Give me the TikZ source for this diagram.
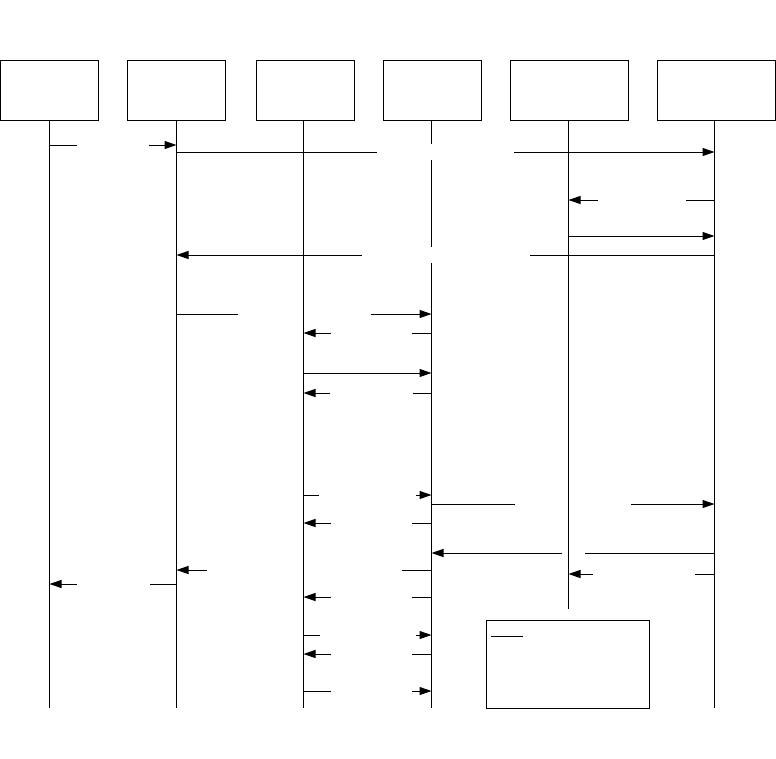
\documentclass[tikz,border=0pt]{standalone}
\usetikzlibrary{arrows.meta}

\begin{document}
\begin{tikzpicture}[
  x=1pt,
  y=-1pt,
  line width=1pt,
  lifebox/.style={draw, minimum width=98pt, minimum height=60pt, inner sep=0pt},
  widebox/.style={lifebox, minimum width=118pt},
  lifeline/.style={line width=1pt},
  msg/.style={line width=1pt, -{Triangle[length=12pt, width=8pt]}},
  gap/.style={fill=white, inner sep=0pt, minimum height=16pt}
]
  % ---- page: 776 x 758, y runs downwards ---------------------------------
  \useasboundingbox (0,0) rectangle (776,758);

  % ---- the six participants ----------------------------------------------
  \node[lifebox] (obj1) at (49.5,90) {};
  \node[lifebox] (obj2) at (176.5,90) {};
  \node[lifebox] (obj3) at (305.3,90) {};
  \node[lifebox] (obj4) at (432.5,90) {};
  \node[widebox] (obj5) at (569.3,90) {};
  \node[widebox] (obj6) at (716.3,90) {};

  % lifeline tops and ends
  \coordinate (top1) at (49.5,120);
  \coordinate (top2) at (176.5,120);
  \coordinate (top3) at (303.5,120);
  \coordinate (top4) at (431.5,120);
  \coordinate (top5) at (568.5,120);
  \coordinate (top6) at (714.5,120);
  \coordinate (end1) at (top1 |- 0,708);
  \coordinate (end2) at (top2 |- 0,708);
  \coordinate (end3) at (top3 |- 0,708);
  \coordinate (end4) at (top4 |- 0,708);
  \coordinate (end5) at (top5 |- 0,609);
  \coordinate (end6) at (top6 |- 0,708);

  % the fourth lifeline lies under the message gaps
  \draw[lifeline] (top4) -- (end4);

  % ---- messages, top to bottom -------------------------------------------
  \draw[msg] (top1 |- 0,145) -- node[gap, minimum width=72pt] {} (top2 |- 0,145);
  \draw[msg] (top2 |- 0,152) -- node[gap, minimum width=137pt] {} (top6 |- 0,152);
  \draw[msg] (top6 |- 0,200) -- node[gap, minimum width=88pt] {} (top5 |- 0,200);
  \draw[msg] (top5 |- 0,236) -- (top6 |- 0,236);
  \draw[msg] (top6 |- 0,255) -- node[gap, minimum width=168pt] {} (top2 |- 0,255);

  \draw[msg] (top2 |- 0,314) -- node[gap, minimum width=133pt] {} (top4 |- 0,314);
  \draw[msg] (top4 |- 0,333) -- node[gap, pos=0.47, minimum width=81pt] {} (top3 |- 0,333);
  \draw[msg] (top3 |- 0,373) -- (top4 |- 0,373);
  \draw[msg] (top4 |- 0,393) -- node[gap, pos=0.47, minimum width=83pt] {} (top3 |- 0,393);

  \draw[msg] (top3 |- 0,495) -- node[gap, minimum width=97pt] {} (top4 |- 0,495);
  \draw[msg] (top4 |- 0,504) -- node[gap, minimum width=116pt] {} (top6 |- 0,504);
  \draw[msg] (top4 |- 0,523) -- node[gap, pos=0.47, minimum width=81pt] {} (top3 |- 0,523);
  \draw[msg] (top6 |- 0,553) -- node[gap, minimum width=23pt] {} (top4 |- 0,553);
  \draw[msg] (top4 |- 0,570) -- node[gap, minimum width=195pt] {} (top2 |- 0,570);
  \draw[msg] (top6 |- 0,574) -- node[gap, pos=0.483, minimum width=102pt] {} (top5 |- 0,574);
  \draw[msg] (top2 |- 0,584) -- node[gap, minimum width=73pt] {} (top1 |- 0,584);
  \draw[msg] (top4 |- 0,597) -- node[gap, pos=0.47, minimum width=81pt] {} (top3 |- 0,597);

  \draw[msg] (top3 |- 0,635) -- node[gap, minimum width=96pt] {} (top4 |- 0,635);
  \draw[msg] (top4 |- 0,654) -- node[gap, pos=0.47, minimum width=81pt] {} (top3 |- 0,654);
  \draw[msg] (top3 |- 0,691) -- node[gap, pos=0.53, minimum width=81pt] {} (top4 |- 0,691);

  % ---- the other lifelines, drawn over the gaps ---------------------------
  \draw[lifeline] (top1) -- (end1);
  \draw[lifeline] (top2) -- (end2);
  \draw[lifeline] (top3) -- (end3);
  \draw[lifeline] (top5) -- (end5);
  \draw[lifeline] (top6) -- (end6);

  % ---- note ----------------------------------------------------------------
  \node[draw, minimum width=163pt, minimum height=88pt, inner sep=0pt]
    (note) at (568,664.5) {};
  \draw ([xshift=5pt, yshift=-16pt]note.north west) -- ++(32,0);

\end{tikzpicture}
\end{document}
